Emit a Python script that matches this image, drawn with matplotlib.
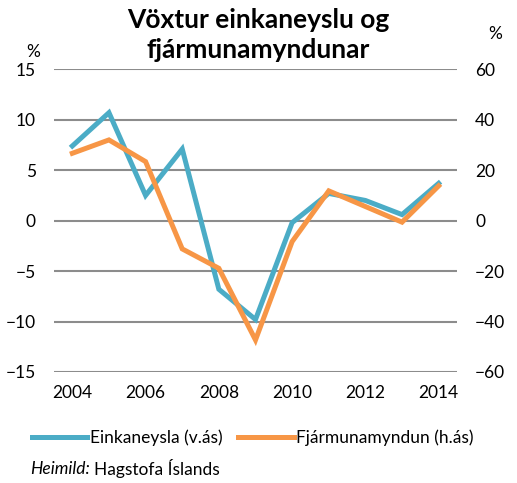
import matplotlib
matplotlib.use("Agg")
import matplotlib.pyplot as plt

plt.rcParams['font.family'] = ['Lato', 'DejaVu Sans']

years = [2004, 2005, 2006, 2007, 2008, 2009, 2010, 2011, 2012, 2013, 2014]
einkaneysla = [7.4, 10.7, 2.5, 7.1, -6.8, -9.8, -0.2, 2.7, 2.0, 0.6, 3.7]
fjarmunamyndun = [26.7, 32.0, 23.4, -11.2, -18.9, -47.3, -8.3, 11.8, 5.6, -0.6, 13.8]
left_ticks = [-15, -10, -5, 0, 5, 10, 15]
right_ticks = [-60, -40, -20, 0, 20, 40, 60]
x_ticks = [2004, 2006, 2008, 2010, 2012, 2014]
title = "Vöxtur einkaneyslu og\nfjármunamyndunar"
labels = ["Einkaneysla (v.ás)", "Fjármunamyndun (h.ás)"]

blue = "#4BACC6"
orange = "#F79646"
grid_c = "#8C8C8C"
fs = 12.5

fig = plt.figure(figsize=(5.17, 4.83), dpi=100)
ax = fig.add_axes([54/517, 1-372/483, (457-54)/517, (372-69.3)/483])
ax2 = ax.twinx()

for a in (ax, ax2):
    for s in a.spines.values():
        s.set_visible(False)
    a.tick_params(length=0, labelsize=fs)

ax.set_xlim(2003.5, 2014.5)
ax.set_ylim(-15, 15)
ax2.set_ylim(-60, 60)
ax.set_yticks(left_ticks)
ax2.set_yticks(right_ticks)
ax.set_xticks(x_ticks)
ax.tick_params(axis='y', pad=13)
ax2.tick_params(axis='y', pad=13)
ax.tick_params(axis='x', pad=9)
ax.grid(axis='y', color=grid_c, linewidth=1.5)
ax.set_axisbelow(True)

l1, = ax.plot(years, einkaneysla, color=blue, linewidth=3.6, solid_joinstyle='miter', zorder=3)
l2, = ax2.plot(years, fjarmunamyndun, color=orange, linewidth=3.6, solid_joinstyle='miter', zorder=3)
ax.set_zorder(0)
ax2.set_zorder(1)
ax2.patch.set_visible(False)

fig.text(258/517, 1-35/483, title, ha='center', va='center', fontsize=19,
         fontweight='bold', linespacing=1.28)
fig.text(33/517, 1-52/483, "%", ha='center', va='center', fontsize=fs)
fig.text(495/517, 1-34/483, "%", ha='center', va='center', fontsize=fs)

fig.legend([l1, l2], labels, ncol=2, frameon=False, loc='center left',
           bbox_to_anchor=(16/517, 1-438/483), fontsize=fs, handlelength=3.2,
           handletextpad=0.15, columnspacing=0.9)

t1 = fig.text(30/517, 1-469/483, "Heimild:", ha='left', va='center', fontsize=fs, style='italic')
fig.canvas.draw()
bb = t1.get_window_extent()
fig.text((bb.x1 + 4)/517, 1-469/483, "Hagstofa Íslands", ha='left', va='center', fontsize=fs)

fig.savefig("out.png", dpi=100)
